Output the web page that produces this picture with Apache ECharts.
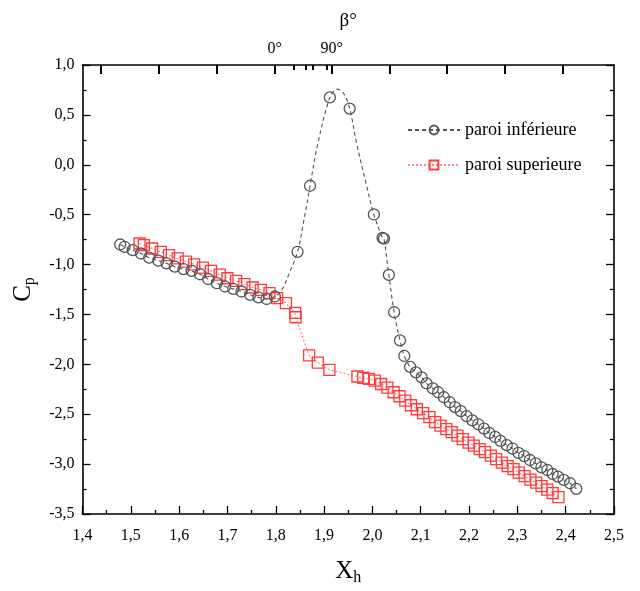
<!DOCTYPE html>
<html>
<head>
<meta charset="utf-8">
<script src="https://cdn.jsdelivr.net/npm/echarts@6/dist/echarts.min.js"></script>
<style>
html,body{margin:0;padding:0;background:#fff;}
#c{width:640px;height:591px;}
</style>
</head>
<body>
<div id="c"></div>
<script>
// ---- data ----
// paroi inférieure : x, y, marker flag (1 = measured point with circle, 0 = point read on the dashed fit curve)
const lowerX = [1.478,1.487,1.504,1.521,1.538,1.557,1.574,1.591,1.609,1.626,1.643,1.660,1.678,1.695,1.712,1.729,1.747,1.764,1.781,1.798,
  1.812,1.826,1.845,1.858,1.871,1.886,1.912,1.927,1.940,1.953,1.967,1.988,2.003,2.021,2.024,2.034,2.045,
  2.057,2.066,2.078,2.090,2.102,2.112,2.125,2.136,2.148,2.160,2.171,2.183,2.195,2.207,2.219,2.231,2.242,2.254,2.265,2.278,2.290,2.302,2.314,2.326,2.338,2.350,2.362,2.373,2.384,2.396,2.409,2.422];
const lowerY = [-0.799,-0.822,-0.856,-0.889,-0.931,-0.961,-0.988,-1.021,-1.045,-1.064,-1.097,-1.145,-1.187,-1.220,-1.244,-1.270,-1.303,-1.329,-1.345,-1.320,
  -1.260,-1.110,-0.872,-0.560,-0.210,0.190,0.675,0.758,0.719,0.563,0.222,-0.209,-0.498,-0.733,-0.740,-1.104,-1.478,
  -1.760,-1.916,-2.025,-2.081,-2.131,-2.191,-2.241,-2.280,-2.330,-2.380,-2.429,-2.469,-2.519,-2.562,-2.601,-2.645,-2.688,-2.728,-2.767,-2.810,-2.844,-2.887,-2.919,-2.959,-2.993,-3.032,-3.059,-3.099,-3.125,-3.158,-3.192,-3.248];
const lowerMark = [1,1,1,1,1,1,1,1,1,1,1,1,1,1,1,1,1,1,1,1,
  0,0,1,0,1,0,1,0,0,1,0,0,1,1,1,1,1,
  1,1,1,1,1,1,1,1,1,1,1,1,1,1,1,1,1,1,1,1,1,1,1,1,1,1,1,1,1,1,1,1];
// paroi superieure
const upperX = [1.518,1.527,1.544,1.562,1.579,1.597,1.614,1.631,1.649,1.666,1.684,1.700,1.718,1.735,1.752,1.769,1.787,1.803,1.821,1.840,1.841,
  1.869,1.887,1.911,1.969,1.981,1.993,2.005,2.018,2.031,2.044,2.056,2.068,2.080,2.092,2.105,2.118,2.130,2.141,2.153,2.164,2.176,2.187,2.199,2.210,2.222,2.233,2.245,2.256,2.268,2.280,2.292,2.303,2.315,2.327,2.339,2.350,2.362,2.373,2.385];
const upperY = [-0.789,-0.806,-0.839,-0.872,-0.906,-0.938,-0.971,-0.998,-1.031,-1.064,-1.100,-1.137,-1.164,-1.197,-1.230,-1.253,-1.286,-1.336,-1.386,-1.485,-1.528,
  -1.910,-1.982,-2.055,-2.122,-2.135,-2.145,-2.164,-2.197,-2.234,-2.280,-2.320,-2.363,-2.410,-2.450,-2.490,-2.530,-2.580,-2.615,-2.650,-2.680,-2.715,-2.750,-2.785,-2.815,-2.850,-2.880,-2.915,-2.950,-2.985,-3.020,-3.050,-3.085,-3.120,-3.155,-3.185,-3.220,-3.255,-3.290,-3.330];
// axes
const xMin = 1.4, xMax = 2.5, xStep = 0.1;
const yMin = -3.5, yMax = 1.0, yStep = 0.5;
// top β° axis: tick positions (in X_h units) and labelled angles
const betaMajorTicks = [1.439,1.559,1.678,1.798,1.916,2.036,2.155,2.275,2.394];
const betaMinorTicks = [1.838,1.862,1.878,1.905];
const betaLabelPos = [1.798,1.916];
const betaLabelText = ['0°','90°'];
const seriesNames = ['paroi inférieure','paroi superieure'];

const FONT = '"Liberation Serif", "DejaVu Serif", serif';
const comma = v => v.toFixed(1).replace('.', ',');

const lowerData = lowerX.map((x,i) => lowerMark[i] ? [x, lowerY[i]] : {value:[x, lowerY[i]], symbol:'none'});
const upperData = upperX.map((x,i) => [x, upperY[i]]);
// tick table for the β° ticks: [x position, tick length in px]
const betaTickData = betaMajorTicks.map(x => [x, 9]).concat(betaMinorTicks.map(x => [x, 5]));

const chart = echarts.init(document.getElementById('c'), null, {renderer:'canvas'});
const tickInside = {show:true, inside:true, length:8, lineStyle:{color:'#000', width:1.3}};
const minorInside = {show:true, length:4, splitNumber:2, lineStyle:{color:'#000', width:1.3}};
const axisLineStyle = {show:true, onZero:false, lineStyle:{color:'#000', width:1.6}};

chart.setOption({
  animation:false,
  backgroundColor:'#fff',
  grid:{left:82.5, right:26, top:65, bottom:73.3, containLabel:false},
  legend:{
    orient:'vertical', left:402, top:116, itemWidth:52, itemHeight:11, itemGap:17,
    data:seriesNames,
    textStyle:{fontFamily:FONT, fontSize:18, color:'#000'}
  },
  xAxis:[
    {type:'value', position:'bottom', min:xMin, max:xMax, interval:xStep,
     axisLine:axisLineStyle, axisTick:tickInside, minorTick:minorInside, splitLine:{show:false},
     axisLabel:{formatter:comma, fontFamily:FONT, fontSize:16, color:'#000', margin:14},
     name:'{c|X}{s|h}', nameLocation:'middle', nameGap:42,
     nameTextStyle:{rich:{c:{fontFamily:FONT, fontSize:25, color:'#000', lineHeight:30},
                          s:{fontFamily:FONT, fontSize:16, color:'#000', verticalAlign:'bottom', lineHeight:30, padding:[12,0,0,0]}}}},
    {type:'value', position:'top', min:xMin, max:xMax,
     axisLine:axisLineStyle,
     axisTick:{show:false},
     axisLabel:{show:true, customValues:betaLabelPos, formatter:v => {const i = betaLabelPos.findIndex(p => Math.abs(p - v) < 1e-6); return i >= 0 ? betaLabelText[i] : '';},
                fontFamily:FONT, fontSize:16, color:'#000', margin:8},
     name:'β°', nameLocation:'middle', nameGap:34,
     nameTextStyle:{fontFamily:FONT, fontSize:19, color:'#000', padding:[0,0,0,0], align:'center'},
     splitLine:{show:false}}
  ],
  yAxis:[
    {type:'value', position:'left', min:yMin, max:yMax, interval:yStep,
     axisLine:axisLineStyle, axisTick:tickInside, minorTick:minorInside, splitLine:{show:false},
     axisLabel:{formatter:comma, fontFamily:FONT, fontSize:16, color:'#000', margin:8},
     name:'{c|C}{s|p}', nameLocation:'middle', nameGap:40, nameRotate:90,
     nameTextStyle:{rich:{c:{fontFamily:FONT, fontSize:25, color:'#000', lineHeight:30},
                          s:{fontFamily:FONT, fontSize:16, color:'#000', verticalAlign:'bottom', lineHeight:30, padding:[12,0,0,0]}}}},
    {type:'value', position:'right', min:yMin, max:yMax, interval:yStep,
     axisLine:axisLineStyle, axisTick:tickInside, minorTick:minorInside, splitLine:{show:false},
     axisLabel:{show:false}}
  ],
  series:[
    {name:seriesNames[0], type:'line', xAxisIndex:0, yAxisIndex:0, data:lowerData,
     smooth:0.35, symbol:'circle', symbolSize:11, showAllSymbol:true,
     lineStyle:{color:'#555', width:1.1, type:[4,3]},
     itemStyle:{color:'rgba(255,255,255,0)', borderColor:'#555', borderWidth:1.3},
     emphasis:{disabled:true}, z:3},
    {name:seriesNames[1], type:'line', xAxisIndex:0, yAxisIndex:0, data:upperData,
     symbol:'rect', symbolSize:11, showAllSymbol:true,
     lineStyle:{color:'#ff8a8a', width:1.3, type:[2,2]},
     itemStyle:{color:'rgba(255,255,255,0)', borderColor:'#ff3b3b', borderWidth:1.3},
     emphasis:{disabled:true}, z:2},
    {name:'betaTicks', type:'custom', xAxisIndex:0, yAxisIndex:0, data:betaTickData,
     silent:true, clip:false, z:60, legendHoverLink:false,
     encode:{x:0, y:-1},
     renderItem:(params, api) => {
       const p = api.coord([api.value(0), yMax]);
       const x = Math.round(p[0]);
       return {type:'rect', shape:{x:x - 1, y:p[1], width:2, height:api.value(1)},
               style:{fill:'#000'}};
     }}
  ]
});
</script>
</body>
</html>
